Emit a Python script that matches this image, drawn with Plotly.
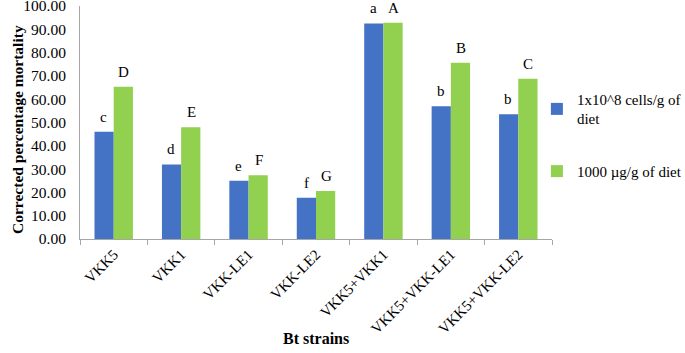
import plotly.graph_objects as go

categories = ["VKK5", "VKK1", "VKK-LE1", "VKK-LE2", "VKK5+VKK1", "VKK5+VKK-LE1", "VKK5+VKK-LE2"]
cells_values = [46.0, 32.0, 25.0, 17.7, 92.5, 57.0, 53.5]
dose_values = [65.3, 48.0, 27.4, 20.6, 92.8, 75.6, 68.8]
cells_letters = ["c", "d", "e", "f", "a", "b", "b"]
dose_letters = ["D", "E", "F", "G", "A", "B", "C"]
series_names = ["1x10^8 cells/g of<br>diet", "1000 µg/g of diet"]
y_ticks = [0, 10, 20, 30, 40, 50, 60, 70, 80, 90, 100]

FONT = "Liberation Serif, Times New Roman, serif"
BLUE = "#4472C4"
GREEN = "#92D050"

fig = go.Figure()
fig.add_trace(go.Bar(x=categories, y=cells_values, name=series_names[0],
                     marker=dict(color=BLUE, line=dict(width=0)), legendgroup="a"))
fig.add_trace(go.Bar(x=categories, y=dose_values, name=series_names[1],
                     marker=dict(color=GREEN, line=dict(width=0)), legendgroup="b"))

for cat, v, t in zip(categories, cells_values, cells_letters):
    fig.add_annotation(x=cat, y=v, text=t, showarrow=False, xshift=-10, yshift=15,
                       font=dict(family=FONT, size=15, color="#000"))
for cat, v, t in zip(categories, dose_values, dose_letters):
    fig.add_annotation(x=cat, y=v, text=t, showarrow=False, xshift=10, yshift=15,
                       font=dict(family=FONT, size=15, color="#000"))

# axis titles
fig.add_annotation(xref="paper", yref="paper", x=0.5, y=-0.425, text="<b>Bt strains</b>",
                   showarrow=False, xanchor="center", yanchor="middle",
                   font=dict(family=FONT, size=16, color="#000"))
fig.add_annotation(xref="paper", yref="paper", x=-(80 - 18) / 472, y=0.468,
                   text="<b>Corrected percentage mortality</b>", textangle=-90,
                   showarrow=False, xanchor="center", yanchor="middle",
                   font=dict(family=FONT, size=15.5, color="#000"))

fig.update_layout(
    width=685, height=353,
    margin=dict(l=80, r=133, t=6, b=114, autoexpand=False),
    paper_bgcolor="white", plot_bgcolor="white",
    barmode="group", bargap=0.43, bargroupgap=0,
    font=dict(family=FONT, size=14, color="#000"),
    legend=dict(x=0.968, y=0.67, xanchor="left", yanchor="top",
                font=dict(family=FONT, size=15, color="#000"),
                tracegroupgap=30, traceorder="grouped", bgcolor="rgba(0,0,0,0)"),
    xaxis=dict(
        automargin=False,
        tickangle=-45, showgrid=False, showline=True, linecolor="#A6A6A6", linewidth=1,
        ticks="outside", ticklen=5, tickcolor="#A6A6A6", tickson="boundaries",
        tickfont=dict(family=FONT, size=15, color="#000"),
    ),
    yaxis=dict(
        automargin=False,
        range=[0, 100], tickvals=y_ticks, tickformat=".2f", showgrid=False,
        showline=True, linecolor="#A6A6A6", linewidth=1, ticks="", zeroline=False,
        ticklabelstandoff=10, ticklabeloverflow="allow",
        tickfont=dict(family=FONT, size=15.5, color="#000"),
    ),
)

fig.write_html("out.html", config={"displayModeBar": False},
               post_script="document.body.style.margin='0';document.body.style.overflow='hidden';")
